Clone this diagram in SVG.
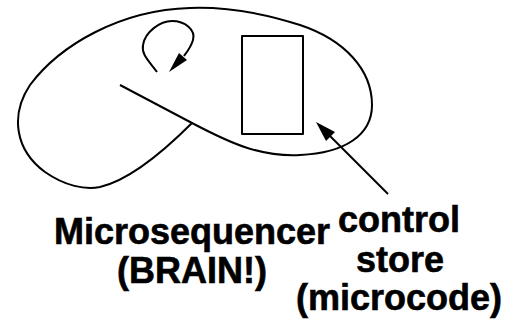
<svg xmlns="http://www.w3.org/2000/svg" width="514" height="320" viewBox="0 0 514 320">
<style>
.ln{fill:none;stroke:#000;stroke-width:2;stroke-linejoin:round}
.hd{fill:#000;stroke:none}
.t{font-family:"Liberation Sans",Arial,sans-serif;font-weight:bold;font-size:36px;fill:#000;stroke:#000;stroke-width:0.6;text-anchor:middle}
</style>
<rect width="514" height="320" fill="#fff"/>
<g id="microsequencer">
<path class="ln" d="M120,85 L192,123 C230,143 260,157 300,155 C345,153 372,135 372,105 C372,70 345,40 300,25 C260,12 220,7 190,8 C120,10 60,45 30,85 C10,115 15,150 45,172 C65,186 85,190 100,187 C130,180 165,150 192,123"/>
<text class="t" x="192" y="244">Microsequencer</text>
<text class="t" x="192" y="283">(BRAIN!)</text>
</g>
<g id="control-store">
<rect class="ln" x="242" y="36" width="61" height="98"/>
<text class="t" x="399" y="232">control</text>
<text class="t" x="400" y="272">store</text>
<text class="t" x="399" y="310">(microcode)</text>
</g>
<g id="connectors">
<path class="ln" d="M157,72 C150,62 141,55 143,45 C145,32 160,21 172,21 C185,21 196,30 193,40 C191,47 187,52 184,56"/>
<polygon class="hd" points="169,72 179,53 187,60"/>
<line class="ln" x1="388" y1="194" x2="330" y2="136"/>
<polygon class="hd" points="316,122 326,141 335,132"/>
</g>
</svg>
